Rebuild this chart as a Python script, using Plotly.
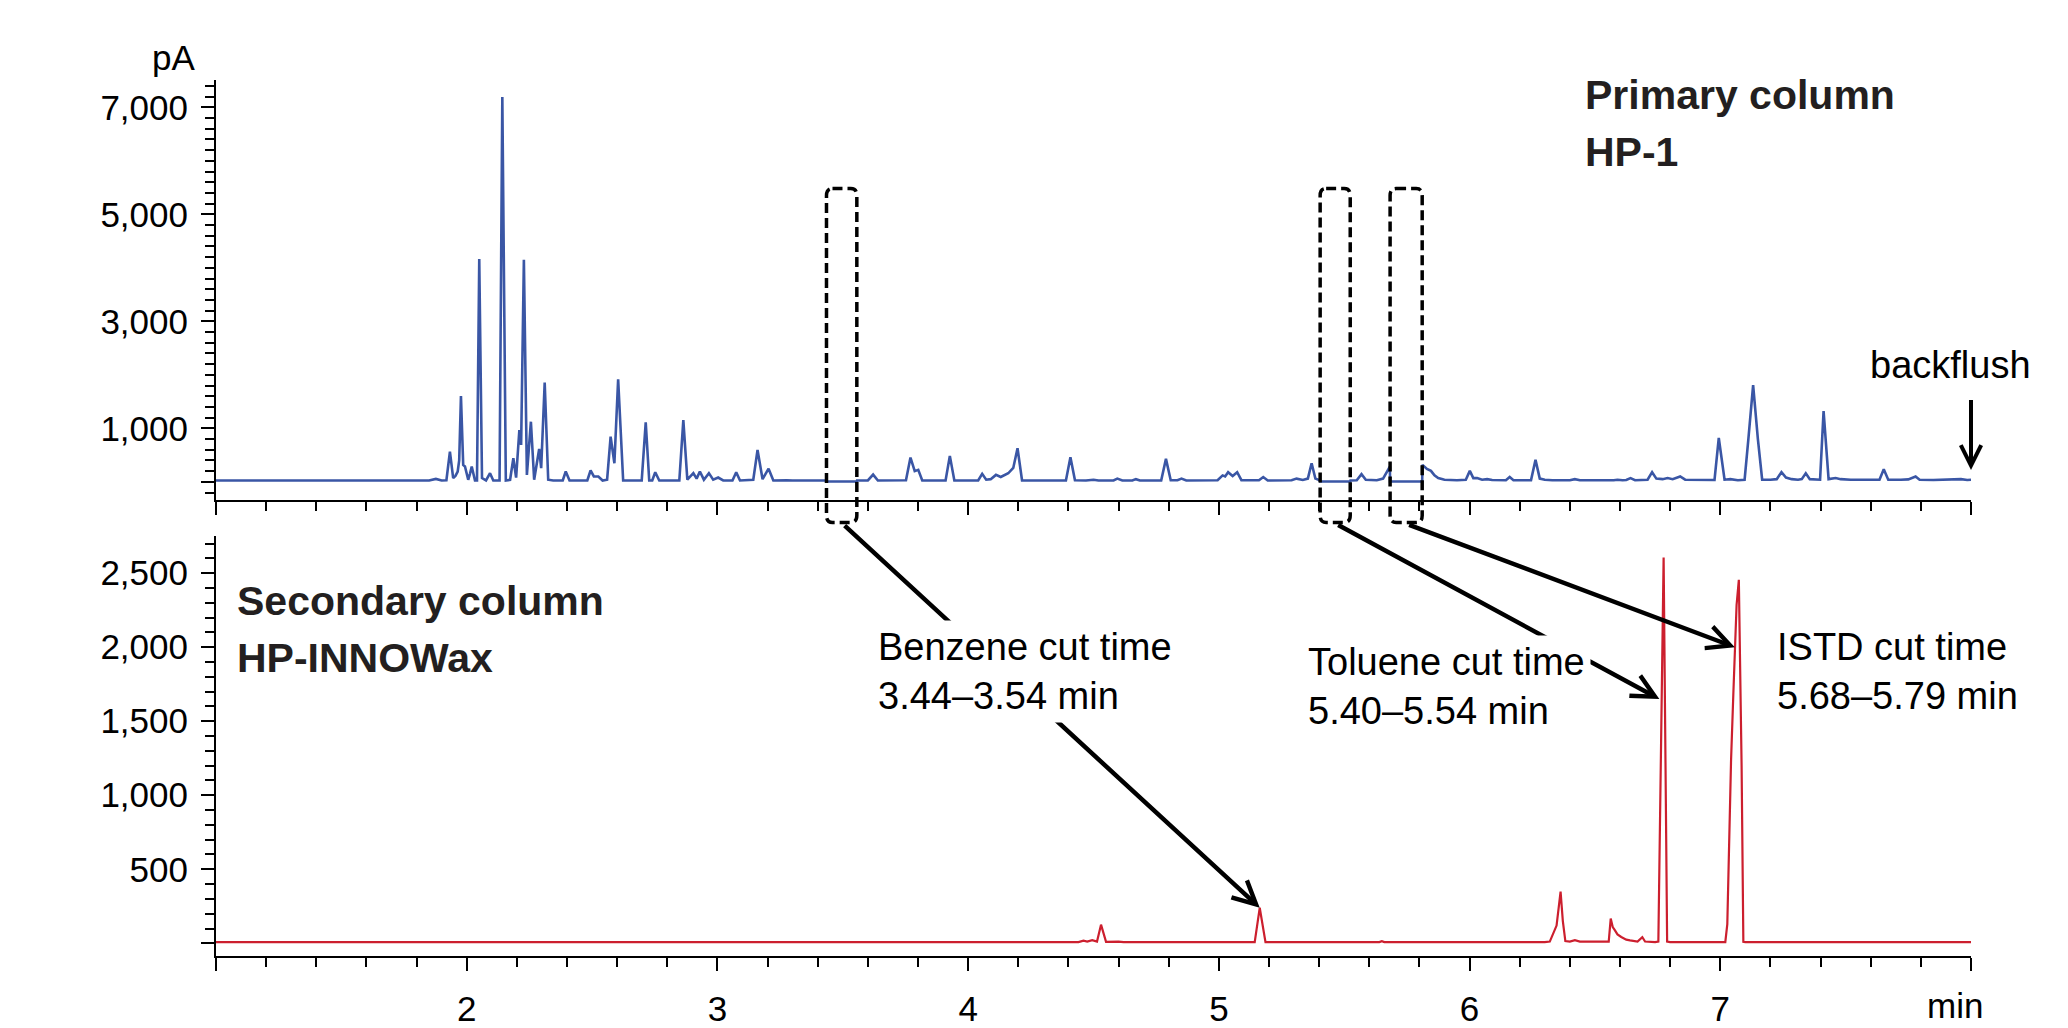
import plotly.graph_objects as go

# ---------------- data ----------------
# Primary column (HP-1) FID trace: retention time (min) and signal (pA)
top_time = [1.00, 1.85, 1.877, 1.90, 1.919, 1.933, 1.946, 1.955, 1.964, 1.970, 1.977, 1.986, 1.993,
            2.006, 2.013, 2.020, 2.033, 2.041, 2.050, 2.061, 2.077, 2.093, 2.106, 2.131, 2.142, 2.156,
            2.173, 2.186, 2.197, 2.210, 2.217, 2.228, 2.240, 2.256, 2.269, 2.289, 2.297, 2.311, 2.325,
            2.345, 2.383, 2.395, 2.410, 2.481, 2.494, 2.507, 2.525, 2.542, 2.560, 2.574, 2.589, 2.604,
            2.624, 2.698, 2.714, 2.728, 2.740, 2.752, 2.768, 2.848, 2.864, 2.880, 2.904, 2.917, 2.930,
            2.946, 2.966, 2.983, 3.003, 3.023, 3.060, 3.075, 3.090, 3.116, 3.143, 3.160, 3.180, 3.204,
            3.223, 3.276, 3.300, 3.435, 3.436, 3.556, 3.557, 3.600, 3.621, 3.640, 3.752, 3.770, 3.787,
            3.801, 3.817, 3.910, 3.927, 3.945, 4.040, 4.056, 4.072, 4.090, 4.111, 4.130, 4.160, 4.180,
            4.197, 4.215, 4.390, 4.408, 4.426, 4.470, 4.500, 4.520, 4.580, 4.595, 4.615, 4.655, 4.669,
            4.685, 4.770, 4.789, 4.808, 4.835, 4.851, 4.870, 4.995, 5.015, 5.025, 5.037, 5.055, 5.073,
            5.090, 5.160, 5.177, 5.195, 5.290, 5.310, 5.335, 5.355, 5.370, 5.385, 5.403, 5.404, 5.524,
            5.525, 5.550, 5.569, 5.586, 5.630, 5.655, 5.682, 5.683, 5.811, 5.812, 5.830, 5.846, 5.860,
            5.875, 5.900, 5.950, 5.985, 6.001, 6.015, 6.030, 6.050, 6.070, 6.090, 6.145, 6.160, 6.175,
            6.245, 6.263, 6.280, 6.300, 6.330, 6.400, 6.420, 6.440, 6.575, 6.590, 6.610, 6.625, 6.642,
            6.660, 6.710, 6.728, 6.745, 6.770, 6.790, 6.810, 6.840, 6.860, 6.977, 6.994, 7.017, 7.040,
            7.070, 7.097, 7.112, 7.131, 7.150, 7.167, 7.200, 7.225, 7.244, 7.262, 7.285, 7.310, 7.325,
            7.341, 7.357, 7.398, 7.412, 7.432, 7.460, 7.480, 7.520, 7.600, 7.635, 7.652, 7.670, 7.720,
            7.750, 7.779, 7.795, 7.850, 7.960, 7.985, 8.000]
top_pA = [25, 25, 55, 25, 30, 565, 70, 110, 193, 400, 1602, 317, 286,
          38, 150, 286, 25, 25, 4166, 70, 25, 162, 25, 25, 7195, 25,
          38, 441, 80, 969, 690, 4153, 130, 1124, 40, 615, 255, 1856, 40,
          25, 25, 193, 25, 25, 212, 100, 100, 25, 40, 845, 348, 1918,
          25, 25, 1112, 25, 25, 180, 25, 25, 1155, 40, 162, 60, 193,
          40, 162, 40, 80, 25, 25, 180, 25, 35, 40, 596, 50, 245,
          25, 30, 25, 25, 5, 5, 25, 25, 135, 25, 30, 454, 200,
          224, 25, 25, 485, 25, 25, 150, 40, 50, 130, 90, 160, 260,
          628, 25, 25, 460, 30, 25, 40, 25, 25, 60, 25, 25, 50,
          25, 25, 429, 30, 30, 60, 25, 30, 120, 100, 180, 110, 180,
          30, 30, 90, 25, 30, 60, 35, 60, 348, 60, 30, 5, 5,
          25, 30, 143, 40, 30, 60, 286, 5, 5, 317, 240, 205, 120,
          70, 40, 30, 40, 205, 70, 70, 40, 50, 35, 30, 90, 30,
          30, 410, 60, 40, 30, 30, 50, 30, 30, 40, 30, 35, 70,
          30, 40, 180, 60, 50, 70, 50, 100, 40, 35, 820, 40, 50,
          30, 40, 800, 1807, 800, 40, 40, 50, 180, 80, 50, 40, 50,
          160, 50, 40, 1323, 50, 70, 50, 40, 35, 40, 236, 40, 40,
          45, 100, 40, 35, 50, 35, 40]

# Secondary column (HP-INNOWax) trace
sec_time = [1.00, 4.440, 4.460, 4.475, 4.495, 4.514, 4.530, 4.550, 4.600, 4.620, 5.143, 5.163, 5.186,
            5.640, 5.650, 5.660, 6.300, 6.320, 6.347, 6.356, 6.363, 6.372, 6.382, 6.400, 6.420, 6.440,
            6.520, 6.555, 6.563, 6.571, 6.578, 6.590, 6.605, 6.625, 6.640, 6.670, 6.689, 6.700, 6.740,
            6.753, 6.774, 6.788, 6.800, 7.020, 7.028, 7.043, 7.052, 7.065, 7.074, 7.080, 7.085, 7.092,
            7.100, 8.000]
sec_pA = [8, 8, 18, 12, 22, 12, 126, 10, 12, 8, 8, 240, 8,
          8, 14, 8, 8, 12, 120, 250, 350, 150, 15, 12, 22, 12,
          10, 12, 167, 110, 93, 60, 43, 25, 20, 12, 41, 12, 8,
          12, 2605, 12, 8, 8, 130, 1240, 1680, 2285, 2455, 1800, 1200, 10,
          8, 8]

# Heart-cut windows (dashed boxes on the primary trace), min
cut_names = ["Benzene", "Toluene", "ISTD"]
cut_labels = ["Benzene cut time<br>3.44\u20133.54 min",
              "Toluene cut time<br>5.40\u20135.54 min",
              "ISTD cut time<br>5.68\u20135.79 min"]
cut_box_start = [3.435, 5.404, 5.683]
cut_box_end = [3.556, 5.524, 5.811]
# Where each arrow lands on the secondary trace (min, pA)
cut_target_time = [5.163, 6.757, 7.058]
cut_target_pA = [240, 1650, 2000]

# Axis ticks
x_major = [1, 2, 3, 4, 5, 6, 7, 8]
x_major_text = ["", "2", "3", "4", "5", "6", "7", ""]
top_y_ticks = [0, 1000, 3000, 5000, 7000]
top_y_text = ["", "1,000", "3,000", "5,000", "7,000"]
sec_y_ticks = [0, 500, 1000, 1500, 2000, 2500]
sec_y_text = ["", "500", "1,000", "1,500", "2,000", "2,500"]

# Panel headings (one entry per text line)
heading_lines = ["Primary column", "HP-1", "Secondary column", "HP-INNOWax"]

# ---------------- layout helpers ----------------
W, H = 2068, 1028


def px(xp):
    return xp / W


def py(yp):
    return 1 - yp / H


BLUE = "#3A56A5"
RED = "#CC1F2E"
FONT = "Liberation Sans"
TICKF = dict(family=FONT, size=35, color="black")

fig = go.Figure()
fig.add_trace(go.Scatter(x=top_time, y=top_pA, mode="lines", xaxis="x", yaxis="y",
                         line=dict(color=BLUE, width=2.6), showlegend=False, hoverinfo="skip"))
fig.add_trace(go.Scatter(x=sec_time, y=sec_pA, mode="lines", xaxis="x2", yaxis="y2",
                         line=dict(color=RED, width=2.2), showlegend=False, hoverinfo="skip"))

xdom = [px(216), px(1971)]
common_x = dict(range=[1, 8], domain=xdom, showline=True, linecolor="black", linewidth=2,
                ticks="outside", ticklen=13, tickwidth=2, tickcolor="black",
                tickmode="array", tickvals=x_major, showgrid=False, zeroline=False,
                minor=dict(tickmode="linear", tick0=0, dtick=0.2, ticks="outside", ticklen=9,
                           tickwidth=2, tickcolor="black", showgrid=False),
                tickfont=TICKF, fixedrange=True)
common_y = dict(showline=True, linecolor="black", linewidth=2, ticks="outside", ticklen=13,
                tickwidth=2, tickcolor="black", tickmode="array", showgrid=False, zeroline=False,
                tickfont=TICKF, fixedrange=True, ticklabelstandoff=6)

fig.update_layout(
    width=W, height=H, autosize=False,
    margin=dict(l=0, r=0, t=0, b=0),
    paper_bgcolor="white", plot_bgcolor="white",
    font=dict(family=FONT, color="black"),
    xaxis=dict(common_x, anchor="y", showticklabels=False),
    yaxis=dict(common_y, anchor="x", domain=[py(501.7), py(80)], range=[-335, 7518],
               tickvals=top_y_ticks, ticktext=top_y_text,
               minor=dict(tickmode="linear", tick0=0, dtick=200, ticks="outside", ticklen=9,
                          tickwidth=2, tickcolor="black", showgrid=False)),
    xaxis2=dict(common_x, anchor="y2", ticktext=x_major_text, ticklabelstandoff=8),
    yaxis2=dict(common_y, anchor="x2", domain=[py(959.5), py(538.5)], range=[-84, 2748],
                tickvals=sec_y_ticks, ticktext=sec_y_text,
                minor=dict(tickmode="linear", tick0=0, dtick=100, ticks="outside", ticklen=9,
                           tickwidth=2, tickcolor="black", showgrid=False)),
)

# dashed rounded boxes for the cut windows
rx = 6 / 250.75
ry = 7 / H
ytop, ybot = py(189.3), py(524.5)
for x0, x1 in zip(cut_box_start, cut_box_end):
    path = (f"M {x0 + rx},{ytop} L {x1 - rx},{ytop} Q {x1},{ytop} {x1},{ytop - ry} "
            f"L {x1},{ybot + ry} Q {x1},{ybot} {x1 - rx},{ybot} L {x0 + rx},{ybot} "
            f"Q {x0},{ybot} {x0},{ybot + ry} L {x0},{ytop - ry} Q {x0},{ytop} {x0 + rx},{ytop} Z")
    fig.add_shape(type="path", path=path, xref="x", yref="paper",
                  line=dict(color="black", width=3.5, dash="10px,5px"))

annotations = []
# arrows from box bottoms to the secondary-column peaks
for x0, x1, tx, ty in zip(cut_box_start, cut_box_end, cut_target_time, cut_target_pA):
    annotations.append(dict(x=tx, y=ty, xref="x2", yref="y2",
                            ax=(x0 + x1) / 2 + 0.006, ay=2830, axref="x2", ayref="y2",
                            text="", showarrow=True, arrowhead=5, arrowsize=1.0,
                            arrowwidth=4.5, arrowcolor="black", standoff=0))
# backflush arrow
annotations.append(dict(x=8.0, y=223, xref="x", yref="y", ax=8.0, ay=1560, axref="x", ayref="y",
                        text="", showarrow=True, arrowhead=5, arrowsize=1.0, arrowwidth=4,
                        arrowcolor="black", standoff=0))

# cut-time labels (white background hides the arrow line behind them)
label_pos = [(871.8, 622.6), (1301.5, 637.4), (1770.7, 622.2)]
for (lx, ly), txt in zip(label_pos, cut_labels):
    annotations.append(dict(x=px(lx), y=py(ly), xref="paper", yref="paper", xanchor="left",
                            yanchor="top", align="left", text=txt, showarrow=False,
                            bgcolor="white", borderpad=5,
                            font=dict(family=FONT, size=38, color="black")))

# bold panel headings, one line each so the baselines match
heading_pos = [(1583, 70.5), (1583, 127.2), (235, 578.4), (235, 635.6)]
for (hx, hy), txt in zip(heading_pos, heading_lines):
    annotations.append(dict(x=px(hx), y=py(hy), xref="paper", yref="paper", xanchor="left",
                            yanchor="top", align="left", text=f"<b>{txt}</b>", showarrow=False,
                            font=dict(family=FONT, size=41, color="#231F20")))

annotations += [
    dict(x=px(1950), y=py(366), xref="paper", yref="paper", xanchor="center", yanchor="middle",
         text="backflush", showarrow=False, font=dict(family=FONT, size=38, color="black")),
    dict(x=px(197), y=py(36), xref="paper", yref="paper", xanchor="right", yanchor="top",
         text="pA", showarrow=False, font=dict(family=FONT, size=35, color="black")),
    dict(x=px(1985), y=py(988), xref="paper", yref="paper", xanchor="right", yanchor="top",
         text="min", showarrow=False, font=dict(family=FONT, size=35, color="black")),
]
fig.update_layout(annotations=annotations)

fig.write_html("out.html")
